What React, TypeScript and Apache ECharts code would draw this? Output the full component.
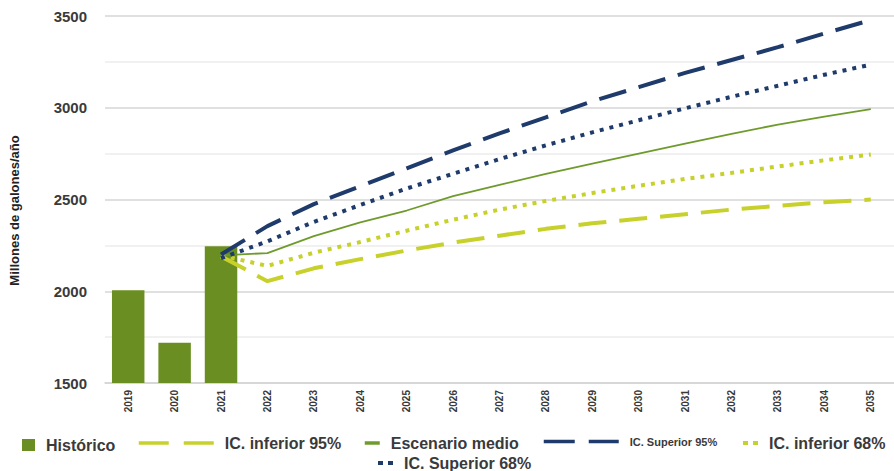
import React, { useEffect, useRef } from "react";
import * as echarts from "echarts";

const years = ["2019","2020","2021","2022","2023","2024","2025","2026","2027","2028","2029","2030","2031","2032","2033","2034","2035"];
const historico = [2005, 1720, 2245, null, null, null, null, null, null, null, null, null, null, null, null, null, null];
const icInferior95 = [null, null, 2190, 2055, 2125, 2175, 2222, 2265, 2303, 2340, 2370, 2395, 2420, 2445, 2465, 2485, 2500];
const escenarioMedio = [null, null, 2195, 2208, 2300, 2375, 2440, 2518, 2580, 2640, 2695, 2750, 2805, 2858, 2908, 2952, 2992];
const icSuperior95 = [null, null, 2200, 2355, 2475, 2572, 2670, 2768, 2860, 2948, 3035, 3112, 3190, 3260, 3330, 3405, 3478];
const icInferior68 = [null, null, 2195, 2138, 2210, 2268, 2330, 2390, 2445, 2492, 2535, 2575, 2612, 2645, 2680, 2714, 2745];
const icSuperior68 = [null, null, 2180, 2272, 2378, 2470, 2560, 2640, 2720, 2795, 2866, 2932, 2997, 3060, 3120, 3180, 3235];

const GREEN_BAR = "#6b8e23";
const GREEN_LINE = "#6f9b2d";
const YELLOW = "#c8d12b";
const NAVY = "#1f3b6b";
const TEXT = "#3a3a3a";
const FONT = "'Liberation Sans', Arial, sans-serif";

export default function App() {
  const ref = useRef<HTMLDivElement>(null);
  useEffect(() => {
    if (!ref.current) return;
    const chart = echarts.init(ref.current, null, { renderer: "svg" });
    const legendText = (size: number) => ({
      fontSize: size,
      fontWeight: "bold" as const,
      color: TEXT,
      fontFamily: FONT,
      padding: [0, 0, 0, 6],
    });
    const hideSymbol = { opacity: 0 };
    chart.setOption({
      animation: false,
      backgroundColor: "#ffffff",
      textStyle: { fontFamily: FONT },
      grid: { left: 105, top: 16, width: 789, height: 367, containLabel: false },
      legend: [
        {
          data: [{ name: "Histórico", icon: "rect" }],
          left: 22, top: 437, itemWidth: 13, itemHeight: 12, padding: 0,
          textStyle: legendText(16),
        },
        {
          data: [{ name: "IC. inferior 95%" }],
          left: 137, top: 435, itemWidth: 75, itemHeight: 14, padding: 0,
          itemStyle: hideSymbol,
          lineStyle: { type: [30, 15], width: 3.5, color: YELLOW },
          textStyle: legendText(16),
        },
        {
          data: [{ name: "Escenario medio" }],
          left: 363, top: 435, itemWidth: 15, itemHeight: 14, padding: 0,
          itemStyle: hideSymbol,
          lineStyle: { width: 3.5, color: GREEN_LINE },
          textStyle: legendText(16),
        },
        {
          data: [{ name: "IC. Superior 95%" }],
          left: 542, top: 436, itemWidth: 75, itemHeight: 12, padding: 0,
          itemStyle: hideSymbol,
          lineStyle: { type: [31, 14], width: 3.5, color: NAVY },
          textStyle: legendText(11),
        },
        {
          data: [{ name: "IC. inferior 68%" }],
          left: 741, top: 435, itemWidth: 15, itemHeight: 14, padding: 0,
          itemStyle: hideSymbol,
          lineStyle: { type: [5, 5], width: 4, color: YELLOW },
          textStyle: legendText(16),
        },
        {
          data: [{ name: "IC. Superior 68%" }],
          left: 376, top: 455, itemWidth: 15, itemHeight: 14, padding: 0,
          itemStyle: hideSymbol,
          lineStyle: { type: [5, 5], width: 4, color: NAVY },
          textStyle: legendText(16),
        },
      ],
      xAxis: {
        type: "category",
        data: years,
        boundaryGap: true,
        axisTick: { show: false },
        axisLine: { lineStyle: { color: "#d4d4d4", width: 1.5 } },
        axisLabel: {
          rotate: 90,
          fontSize: 10,
          fontWeight: "bold",
          color: TEXT,
          margin: 7,
          interval: 0,
        },
      },
      yAxis: {
        type: "value",
        min: 1500,
        max: 3500,
        interval: 250,
        name: "Millones de galones/año",
        nameLocation: "middle",
        nameRotate: 90,
        nameGap: 84,
        nameTextStyle: {
          fontSize: 13,
          fontWeight: "bold",
          color: "#222",
          padding: [0, 22, 0, 0],
        },
        axisLine: { show: false },
        axisTick: { show: false },
        axisLabel: {
          fontSize: 15,
          fontWeight: "bold",
          color: TEXT,
          margin: 18,
          formatter: (v: number) => (v % 500 === 0 ? String(v) : ""),
        },
        splitLine: {
          lineStyle: { color: ["#d6d6d6", "#ececec"], width: 1.5 },
        },
      },
      series: [
        {
          name: "Histórico",
          type: "bar",
          data: historico,
          barWidth: "70%",
          itemStyle: { color: GREEN_BAR },
          z: 1,
        },
        {
          name: "IC. inferior 95%",
          type: "line",
          data: icInferior95,
          symbol: "none",
          connectNulls: false,
          lineStyle: { color: YELLOW, width: 4, type: [28, 13] },
          itemStyle: { color: YELLOW },
          z: 3,
        },
        {
          name: "Escenario medio",
          type: "line",
          data: escenarioMedio,
          symbol: "none",
          lineStyle: { color: GREEN_LINE, width: 1.8 },
          itemStyle: { color: GREEN_LINE },
          z: 3,
        },
        {
          name: "IC. Superior 95%",
          type: "line",
          data: icSuperior95,
          symbol: "none",
          lineStyle: { color: NAVY, width: 4, type: [28, 13] },
          itemStyle: { color: NAVY },
          z: 4,
        },
        {
          name: "IC. inferior 68%",
          type: "line",
          data: icInferior68,
          symbol: "none",
          lineStyle: { color: YELLOW, width: 4, type: [4, 6] },
          itemStyle: { color: YELLOW },
          z: 3,
        },
        {
          name: "IC. Superior 68%",
          type: "line",
          data: icSuperior68,
          symbol: "none",
          lineStyle: { color: NAVY, width: 4, type: [4, 6] },
          itemStyle: { color: NAVY },
          z: 4,
        },
      ],
    });
    return () => chart.dispose();
  }, []);
  return (
    <div
      ref={ref}
      style={{ position: "absolute", left: 0, top: 0, width: 894, height: 471, background: "#fff" }}
    />
  );
}
